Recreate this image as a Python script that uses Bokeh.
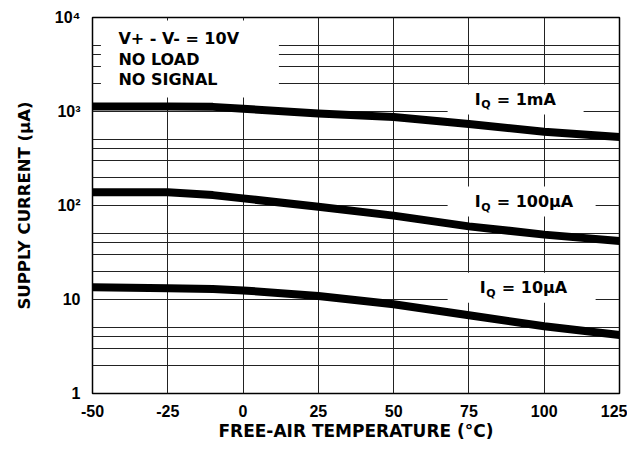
from bokeh.plotting import figure
from bokeh.models import FixedTicker, Range1d
from bokeh.core.properties import value
from bokeh.embed import file_html
from bokeh.resources import INLINE

# ---- data ----
temps = [-50, -25, -10, 0, 25, 50, 75, 100, 125]
iq_1ma = [1130, 1130, 1120, 1070, 950, 875, 735, 610, 535]
iq_100ua = [138, 138, 129, 119, 97, 78, 60, 49, 42]
iq_10ua = [13.5, 13.2, 12.9, 12.5, 10.9, 8.9, 6.8, 5.2, 4.2]

x_ticks = [-50, -25, 0, 25, 50, 75, 100, 125]
x_tick_labels = ["-50", "-25", "0", "25", "50", "75", "100", "125"]
y_ticks = [1, 10, 100, 1000, 10000]
y_tick_labels = ["1", "10", "10\u00b2", "10\u00b3", "10\u2074"]
y_grid_ticks = [1, 2, 3, 4, 5, 10, 20, 30, 40, 50, 100, 200, 300, 400, 500,
                1000, 2000, 3000, 4000, 5000, 10000]

cond_text = ["V+ - V- = 10V", "NO LOAD", "NO SIGNAL"]
cond_x = [-41.4, -41.4, -41.4]
cond_y = [5980, 3575, 2190]
cond_box_x = [-17.65]
cond_box_y = [3620]

curve_values = ["= 1mA", "= 100\u00b5A", "= 10\u00b5A"]
label_x = [76.9, 76.9, 78.6]
label_y = [1342, 110, 13.3]
box_x = [90.5, 92.5, 92.5]
box_w = [136, 148, 148]

FONT = value("DejaVu Sans")
NUMFONT = "Liberation Sans"

p = figure(width=627, height=444, x_range=Range1d(-50, 125), y_range=Range1d(1, 10000),
           y_axis_type="log", output_backend="svg", toolbar_location=None,
           min_border_left=92, min_border_right=8, min_border_top=17, min_border_bottom=51)

p.background_fill_color = "white"
p.border_fill_color = "white"
p.outline_line_color = "black"
p.outline_line_width = 1.5

# grids
p.xgrid.ticker = FixedTicker(ticks=x_ticks)
p.ygrid.ticker = FixedTicker(ticks=y_grid_ticks)
for g in (p.xgrid, p.ygrid):
    g.grid_line_color = "#222222"
    g.grid_line_width = 1
    g.minor_grid_line_color = None

# axes
p.xaxis.ticker = FixedTicker(ticks=x_ticks)
p.xaxis.major_label_overrides = dict(zip(x_ticks, x_tick_labels))
p.yaxis.ticker = FixedTicker(ticks=y_ticks)
p.yaxis.major_label_overrides = dict(zip(y_ticks, y_tick_labels))
for ax in (p.xaxis, p.yaxis):
    ax.axis_line_color = None
    ax.major_tick_line_color = None
    ax.minor_tick_line_color = None
    ax.major_tick_out = 0
    ax.major_tick_in = 0
    ax.major_label_text_font = NUMFONT
    ax.major_label_text_font_style = "bold"
    ax.major_label_text_font_size = "16px"
    ax.major_label_text_color = "black"
    ax.axis_label_text_font = "DejaVu Sans"
    ax.axis_label_text_font_style = "bold"
    ax.axis_label_text_color = "black"

p.xaxis.axis_label = "FREE-AIR TEMPERATURE (\u00b0C)"
p.yaxis.axis_label = "SUPPLY CURRENT (\u00b5A)"
p.xaxis.axis_label_text_font_size = "17px"
p.yaxis.axis_label_text_font_size = "16.5px"
p.xaxis.major_label_standoff = 11
p.xaxis.axis_label_standoff = 1
p.yaxis.major_label_standoff = 12
p.yaxis.axis_label_standoff = 18

# curves
for vals in (iq_1ma, iq_100ua, iq_10ua):
    p.line(temps, vals, line_color="black", line_width=8, line_cap="butt", line_join="round")

# label boxes (hide grid behind text)
p.rect(x=cond_box_x, y=cond_box_y, width=178, height=77, width_units="screen",
       height_units="screen", fill_color="white", line_color=None)
p.rect(x=box_x, y=label_y, width=box_w, height=30, width_units="screen",
       height_units="screen", fill_color="white", line_color=None)

# condition text
p.text(x=cond_x, y=cond_y, text=cond_text, text_font=FONT, text_font_style="bold",
       text_font_size="16px", text_baseline="middle", text_align="left", text_color="black")

# curve labels  I_Q = ...
p.text(x=label_x, y=label_y, text=["I"] * 3, text_font=FONT, text_font_style="bold",
       text_font_size="16px", text_baseline="middle", text_align="left", text_color="black")
p.text(x=label_x, y=label_y, text=["Q"] * 3, x_offset=6.5, y_offset=5.5, text_font=FONT,
       text_font_style="bold", text_font_size="11px", text_baseline="middle",
       text_align="left", text_color="black")
p.text(x=label_x, y=label_y, text=curve_values, x_offset=22, text_font=FONT,
       text_font_style="bold", text_font_size="16px", text_baseline="middle",
       text_align="left", text_color="black")

open("out.html", "w").write(file_html(p, INLINE))
